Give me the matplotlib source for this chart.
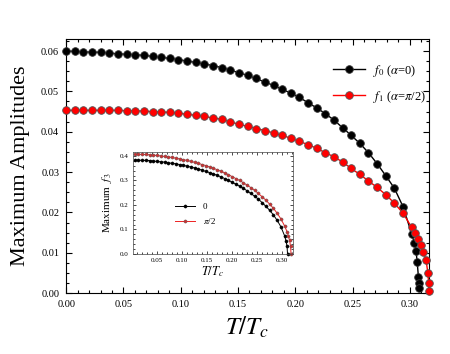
import matplotlib
matplotlib.use('Agg')
import matplotlib.pyplot as plt
from matplotlib.ticker import MultipleLocator

plt.rcParams['font.family'] = ['Liberation Serif', 'DejaVu Serif']
plt.rcParams['mathtext.fontset'] = 'stix'

# main panel: temperature grid and maximum amplitudes
t_grid = [0.0000, 0.0075, 0.0151, 0.0226, 0.0302, 0.0377, 0.0452, 0.0528,
          0.0603, 0.0679, 0.0754, 0.0829, 0.0905, 0.0980, 0.1056, 0.1131,
          0.1206, 0.1282, 0.1357, 0.1433, 0.1508, 0.1583, 0.1659, 0.1734,
          0.1810, 0.1885, 0.1960, 0.2036, 0.2111, 0.2187, 0.2262, 0.2337,
          0.2413, 0.2488, 0.2564, 0.2639, 0.2714, 0.2790, 0.2865, 0.2941,
          0.3016]
t_f0 = t_grid + [0.3040, 0.3054, 0.3064, 0.3075, 0.3080, 0.3081]
f0 = [0.0600, 0.0599, 0.0598, 0.0597, 0.0597, 0.0595, 0.0593, 0.0592,
      0.0591, 0.0589, 0.0587, 0.0584, 0.0582, 0.0579, 0.0575, 0.0572,
      0.0568, 0.0564, 0.0559, 0.0553, 0.0546, 0.0540, 0.0532, 0.0523,
      0.0515, 0.0505, 0.0496, 0.0485, 0.0472, 0.0459, 0.0445, 0.0429,
      0.0410, 0.0391, 0.0371, 0.0348, 0.0321, 0.0291, 0.0260, 0.0214,
      0.0147, 0.0124, 0.0105, 0.0078, 0.0040, 0.0025, 0.0012]
t_f1 = t_grid + [0.3049, 0.3075, 0.3096, 0.3119, 0.3142, 0.3158, 0.3164,
                 0.3166]
f1 = [0.0453, 0.0453, 0.0453, 0.0453, 0.0453, 0.0453, 0.0453, 0.0452,
      0.0452, 0.0451, 0.0450, 0.0449, 0.0448, 0.0446, 0.0443, 0.0441,
      0.0438, 0.0434, 0.0431, 0.0424, 0.0419, 0.0413, 0.0408, 0.0403,
      0.0397, 0.0391, 0.0384, 0.0376, 0.0368, 0.0359, 0.0348, 0.0338,
      0.0325, 0.0309, 0.0294, 0.0278, 0.0262, 0.0244, 0.0223, 0.0198,
      0.0163, 0.0148, 0.0134, 0.0119, 0.0103, 0.0081, 0.0049, 0.0026,
      0.0006]

# inset: maximum f3
t_in = [0.0050, 0.0125, 0.0200, 0.0275, 0.0350, 0.0425, 0.0500, 0.0575,
        0.0650, 0.0725, 0.0800, 0.0875, 0.0950, 0.1025, 0.1100, 0.1175,
        0.1250, 0.1325, 0.1400, 0.1475, 0.1550, 0.1625, 0.1700, 0.1775,
        0.1850, 0.1925, 0.2000, 0.2075, 0.2150, 0.2225, 0.2300, 0.2375,
        0.2450, 0.2525, 0.2600, 0.2675, 0.2750, 0.2825, 0.2900, 0.2975,
        0.3050]
t_in0 = t_in + [0.3080, 0.3100, 0.3110]
f3_0 = [0.383, 0.383, 0.382, 0.382, 0.381, 0.379, 0.378, 0.376, 0.375,
        0.372, 0.370, 0.368, 0.365, 0.362, 0.358, 0.355, 0.351, 0.347,
        0.342, 0.337, 0.332, 0.327, 0.321, 0.315, 0.308, 0.301, 0.293,
        0.285, 0.277, 0.268, 0.258, 0.247, 0.236, 0.224, 0.210, 0.195,
        0.179, 0.160, 0.138, 0.112, 0.075, 0.053, 0.031, 0.000]
t_in1 = t_in + [0.3100, 0.3125, 0.3150, 0.3170, 0.3180]
f3_1 = [0.407, 0.407, 0.406, 0.406, 0.405, 0.403, 0.402, 0.400, 0.398,
        0.396, 0.394, 0.391, 0.388, 0.385, 0.382, 0.378, 0.374, 0.370,
        0.365, 0.361, 0.355, 0.350, 0.344, 0.338, 0.331, 0.324, 0.316,
        0.308, 0.300, 0.291, 0.281, 0.271, 0.260, 0.247, 0.234, 0.220,
        0.204, 0.187, 0.167, 0.144, 0.115, 0.091, 0.075, 0.056, 0.032,
        0.000]

fig = plt.figure(figsize=(4.5, 3.54), dpi=100)
ax = fig.add_axes([0.147, 0.172, 0.806, 0.718])

ax.plot(t_f0, f0, '-o', color='black', lw=1.0, ms=5.5, mfc='black',
        mec='#333333', mew=0.6, clip_on=False, zorder=3,
        label=r'$f_0$ ($\alpha$=0)')
ax.plot(t_f1, f1, '-o', color='#ff0000', lw=1.0, ms=5.5, mfc='#ff0000',
        mec='#555555', mew=0.6, clip_on=False, zorder=3,
        label=r'$f_1$ ($\alpha$=$\pi$/2)')

ax.set_xlim(0, 0.3166)
ax.set_ylim(0, 0.063)
ax.xaxis.set_major_locator(MultipleLocator(0.05))
ax.xaxis.set_minor_locator(MultipleLocator(0.01))
ax.yaxis.set_major_locator(MultipleLocator(0.01))
ax.yaxis.set_minor_locator(MultipleLocator(0.0025))
ax.xaxis.set_major_formatter(plt.FormatStrFormatter('%.2f'))
ax.yaxis.set_major_formatter(plt.FormatStrFormatter('%.2f'))
ax.tick_params(which='both', direction='in', top=True, right=True,
               labelsize=7.5, width=0.8)
ax.tick_params(which='major', length=4.5, pad=5)
ax.tick_params(which='minor', length=2.5)
for sp in ax.spines.values():
    sp.set_linewidth(0.8)

ax.set_ylabel('Maximum Amplitudes', fontsize=16, labelpad=8)
ax.set_xlabel(r'$T/T_c$', fontsize=18, labelpad=4)
ax.legend(loc='upper left', bbox_to_anchor=(0.7355, 0.906), frameon=False,
          fontsize=9, handlelength=2.6, handletextpad=0.6, labelspacing=0.8,
          borderpad=0, borderaxespad=0)

# inset
ins = fig.add_axes([0.2956, 0.2825, 0.3556, 0.288])
ins.plot(t_in0, f3_0, '-o', color='black', lw=0.7, ms=2.3, mfc='black',
         mec='black', mew=0.3, clip_on=False, label='0')
ins.plot(t_in1, f3_1, '-o', color='#ee2222', lw=0.7, ms=2.3, mfc='#cc3333',
         mec='#555555', mew=0.3, clip_on=False, label=r'$\pi$/2')
ins.set_xlim(0.002, 0.322)
ins.set_ylim(0, 0.416)
ins.xaxis.set_major_locator(MultipleLocator(0.05))
ins.xaxis.set_minor_locator(MultipleLocator(0.01))
ins.yaxis.set_major_locator(MultipleLocator(0.1))
ins.yaxis.set_minor_locator(MultipleLocator(0.02))
ins.xaxis.set_major_formatter(plt.FormatStrFormatter('%.2f'))
ins.yaxis.set_major_formatter(plt.FormatStrFormatter('%.1f'))
ins.tick_params(which='both', direction='in', top=True, right=True,
                labelsize=5, width=0.5)
ins.tick_params(which='major', length=2.5, pad=3)
ins.tick_params(which='minor', length=1.3)
for sp in ins.spines.values():
    sp.set_linewidth(0.5)
    sp.set_color('#444444')
ins.set_ylabel(r'Maximum  $f_3$', fontsize=8, labelpad=4)
ins.set_xlabel(r'$T/T_c$', fontsize=9, labelpad=1)
ins.legend(loc='upper left', bbox_to_anchor=(0.26, 0.5), frameon=False,
           fontsize=6.5, handlelength=2.3, handletextpad=0.8,
           labelspacing=0.5, borderpad=0, borderaxespad=0)

fig.savefig('out.png', dpi=100)
